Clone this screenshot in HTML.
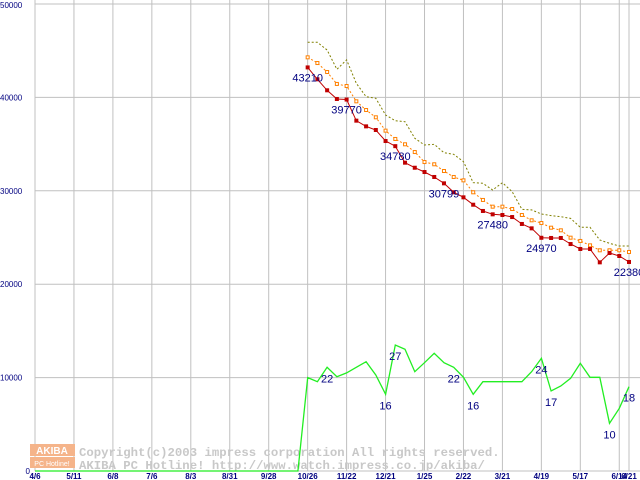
<!DOCTYPE html>
<html><head><meta charset="utf-8"><style>
body{margin:0;background:#fff;width:640px;height:480px;overflow:hidden}
svg{display:block}
text{font-family:"Liberation Sans",sans-serif}
text.mono{font-family:"Liberation Mono",monospace}
</style></head><body>
<svg id="chart" width="640" height="480" viewBox="0 0 640 480" xmlns="http://www.w3.org/2000/svg">
<g id="grid"></g>
<g id="axes"></g>
<g>
<rect x="30" y="444" width="45" height="12" fill="#f5b48a"/>
<text x="52" y="454" font-size="10" font-weight="bold" fill="#fff" text-anchor="middle">AKIBA</text>
<rect x="30" y="457" width="45" height="11" fill="#f5b48a"/>
<text x="52" y="466" font-size="7" fill="#fff" text-anchor="middle">PC Hotline!</text>
<text class="mono" x="79" y="456" font-size="12.3" font-weight="bold" fill="#c8c8c8">Copyright(c)2003 impress corporation All rights reserved.</text>
<text class="mono" x="79" y="469" font-size="12.3" font-weight="bold" fill="#c8c8c8">AKIBA PC Hotline!  http://www.watch.impress.co.jp/akiba/</text>
</g>
<g id="series"></g>
</svg>
<script>
const xTickLabels=["4/6","5/11","6/8","7/6","8/3","8/31","9/28","10/26","11/22","12/21","1/25","2/22","3/21","4/19","5/17","6/14","6/21"];
const xTickWeeks=[0,4,8,12,16,20,24,28,32,36,40,44,48,52,56,60,61];
const yTicks=[0,10000,20000,30000,40000,50000];
const startWeek=28;
const minPrice=[43210,41940,40760,39830,39770,37510,36900,36510,35330,34780,33010,32470,32010,31480,30799,29840,29300,28510,27840,27480,27410,27190,26450,25980,24970,24950,24950,24300,23770,23770,22340,23340,23020,22380];
const avgPrice=[44290,43680,42720,41440,41220,39580,38650,37870,36440,35550,34980,34150,33080,32840,32120,31480,31120,29840,29020,28300,28300,28050,27410,26840,26550,26050,25770,24980,24630,24160,23630,23630,23630,23450];
const maxPrice=[45900,45900,45080,43010,44010,41510,40080,39900,38120,37510,37400,35620,34900,34980,34080,33910,33120,30870,30800,30090,30870,29910,28020,27950,27520,27340,27230,27050,26090,26090,24730,24380,24090,24090];
const shopCount=[10000,9560,11100,10100,10500,11100,11700,10280,8210,13490,13030,10630,11600,12600,11600,11100,10030,8210,9560,9560,9560,9560,9560,10630,12070,8570,9100,9930,11530,10030,10030,5110,6710,9030];
const priceLabelIdx=[0,4,9,14,19,24,33];
const priceLabelText=["43210","39770","34780","30799","27480","24970","22380"];
const countLabelIdx=[2,9,8,15,17,24,25,31,33];
const countLabelText=["22","27","16","22","16","24","17","10","18"];

const X=w=>35+w*(594/61);
const Y=v=>471-v*(467/50000);
const NS="http://www.w3.org/2000/svg";
function mk(tag,attrs,parent){const e=document.createElementNS(NS,tag);for(const k in attrs)e.setAttribute(k,attrs[k]);parent.appendChild(e);return e;}
const grid=document.getElementById('grid'),axes=document.getElementById('axes'),series=document.getElementById('series');

yTicks.forEach((v,i)=>{
  const l=mk('line',{x1:35,x2:640,y1:Y(v),y2:Y(v),stroke:'#c0c0c0','stroke-width':1},grid);
  
  
  const t=mk('text',{x:v===0?30:0,y:v===0?Y(v)+3:(v===50000?Y(v)+4:Y(v)+3),'font-size':8,fill:'#000080','text-anchor':v===0?'end':'start'},axes);
  t.textContent=String(v);
  
  
});
xTickWeeks.forEach((w,i)=>{
  const l=mk('line',{x1:X(w),x2:X(w),y1:0,y2:471,stroke:'#c0c0c0','stroke-width':1},grid);
  
  
  const t=mk('text',{x:X(w),y:479,'font-size':8,'font-weight':'bold',fill:'#000080','text-anchor':'middle'},axes);
  t.textContent=xTickLabels[i];
  
  
});

function pts(arr,off){return arr.map((v,i)=>X(i+off).toFixed(1)+','+Y(v).toFixed(1)).join(' ');}
const greenAll=[];for(let w=0;w<startWeek;w++)greenAll.push(0);
const gp=greenAll.map((v,i)=>X(i)+','+Y(v)).join(' ')+' '+pts(shopCount,startWeek);
const g=mk('polyline',{points:gp,fill:'none',stroke:'#22ee22','stroke-width':1.3},series);



const mx=mk('polyline',{points:pts(maxPrice,startWeek),fill:'none',stroke:'#808000','stroke-width':1,'stroke-dasharray':'2,2'},series);



const av=mk('polyline',{points:pts(avgPrice,startWeek),fill:'none',stroke:'#ff8000','stroke-width':1,'stroke-dasharray':'2,2'},series);


avgPrice.forEach((v,i)=>{
  const r=mk('rect',{x:X(i+startWeek)-1.5,y:Y(v)-1.5,width:3,height:3,fill:'#fff',stroke:'#ff8000','stroke-width':1},series);
  
  
});

const mn=mk('polyline',{points:pts(minPrice,startWeek),fill:'none',stroke:'#c00000','stroke-width':1},series);


minPrice.forEach((v,i)=>{
  const r=mk('rect',{x:X(i+startWeek)-2,y:Y(v)-2,width:4,height:4,fill:'#c00000'},series);
  
  
});

priceLabelIdx.forEach((idx,k)=>{
  const t=mk('text',{x:X(idx+startWeek),y:Y(minPrice[idx])+14,'font-size':11,fill:'#000080','text-anchor':'middle'},series);
  t.textContent=priceLabelText[k];
  
  
});
countLabelIdx.forEach((idx,k)=>{
  const t=mk('text',{x:X(idx+startWeek),y:Y(shopCount[idx])+15,'font-size':11,fill:'#000080','text-anchor':'middle'},series);
  t.textContent=countLabelText[k];
  
  
});
</script>
</body></html>
